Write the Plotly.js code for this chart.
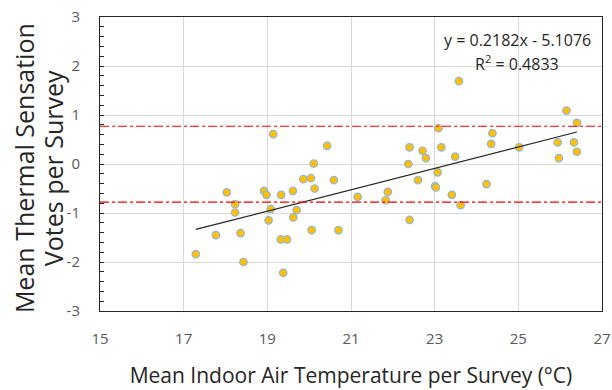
<!DOCTYPE html>
<html>
<head>
<meta charset="utf-8">
<script src="https://cdn.plot.ly/plotly-3.0.1.min.js"></script>
<style>html,body{margin:0;padding:0;background:#fff;}#chart{width:612px;height:390px;}</style>
</head>
<body>
<div id="chart"></div>
<script>
// Mean indoor air temperature per survey (°C)
const temperature = [17.29,17.77,18.03,18.23,18.23,18.36,18.43,18.92,18.98,19.08,19.03,19.14,19.33,19.61,19.32,19.47,19.38,
  20.43,20.11,19.86,20.04,20.13,20.59,19.70,19.62,20.06,20.70,21.16,21.88,21.83,
  23.58,23.09,22.40,22.71,22.79,23.16,22.37,23.49,24.38,24.35,23.07,22.60,23.01,23.03,23.41,23.62,24.24,22.40,
  26.15,26.40,25.02,25.94,26.33,26.40,25.97];
// Mean thermal sensation votes per survey
const sensation = [-1.84,-1.45,-0.58,-0.82,-0.99,-1.41,-2.00,-0.55,-0.63,-0.92,-1.15,0.61,-0.63,-0.55,-1.54,-1.54,-2.22,
  0.37,0.01,-0.31,-0.29,-0.50,-0.33,-0.94,-1.09,-1.35,-1.35,-0.67,-0.57,-0.74,
  1.69,0.73,0.34,0.27,0.12,0.34,0.00,0.15,0.63,0.41,-0.17,-0.33,-0.45,-0.48,-0.63,-0.84,-0.41,-1.14,
  1.09,0.84,0.34,0.44,0.44,0.25,0.12];
const slope = 0.2182, intercept = -5.1076, r2 = 0.4833;
const comfortBounds = [0.77, -0.78];
const xTicks = [15,17,19,21,23,25,27];
const yTicks = [-3,-2,-1,0,1,2,3];
const yTitleLines = ['Mean Thermal Sensation', 'Votes per Survey'];

const xmin = Math.min(...temperature), xmax = Math.max(...temperature);
const trendX = [xmin, xmax];
const trendY = trendX.map(v => slope*v + intercept);

const font = 'Open Sans, Noto Sans, sans-serif';
const traces = [
  {x: temperature, y: sensation, type:'scatter', mode:'markers',
   marker:{color:'#FFC000', size:7.5, line:{color:'#8FB4DE', width:1.2}}, showlegend:false, hoverinfo:'x+y'},
  {x: trendX, y: trendY, type:'scatter', mode:'lines',
   line:{color:'#262626', width:1.2}, showlegend:false, hoverinfo:'skip'}
];
const shapes = comfortBounds.map(b => ({type:'line', xref:'paper', x0:0, x1:1, yref:'y', y0:b, y1:b,
  line:{color:'#FF0000', width:1.2, dash:'dashdot'}}));

const annotations = [
  {x:24.97, y:2.53, xref:'x', yref:'y', text:'y = ' + slope.toFixed(4) + 'x - ' + Math.abs(intercept).toFixed(4), showarrow:false,
   font:{size:16, color:'#262626', family:font}, xanchor:'center', yanchor:'middle'},
  {x:24.97, y:2.06, xref:'x', yref:'y', text:'R<sup>2</sup> = ' + r2.toFixed(4), showarrow:false,
   font:{size:16, color:'#262626', family:font}, xanchor:'center', yanchor:'middle'}
];
const yTitleX = [-0.1514, -0.0936];
yTitleLines.forEach((t, i) => annotations.push({
  x: yTitleX[i], y: 0.486, xref:'paper', yref:'paper', text:t, textangle:-90, showarrow:false,
  font:{size:25, color:'#262626', family:font}, xanchor:'center', yanchor:'middle'}));

const layout = {
  width:612, height:390,
  margin:{l:100, r:10, t:17, b:79},
  paper_bgcolor:'#fff', plot_bgcolor:'#fff',
  font:{family:font, color:'#595959'},
  xaxis:{range:[15,27], tickvals:xTicks, ticktext:xTicks.map(String), showgrid:true, gridcolor:'#D9D9D9', gridwidth:1,
    zeroline:false, showline:true, linecolor:'#262626', linewidth:1, mirror:true, ticks:'',
    ticklabelstandoff:14,
    tickfont:{size:15, color:'#595959', family:font},
    title:{text:'Mean Indoor Air Temperature per Survey (°C)', font:{size:21, color:'#262626', family:font}, standoff:21}},
  yaxis:{range:[-3,3], tickvals:yTicks, ticktext:yTicks.map(String), showgrid:true, gridcolor:'#D9D9D9', gridwidth:1,
    zeroline:false, showline:true, linecolor:'#262626', linewidth:1, mirror:true,
    ticks:'inside', ticklen:4, tickcolor:'#262626',
    minor:{ticks:'inside', dtick:0.2, ticklen:4, tickcolor:'#262626', showgrid:false},
    ticklabelstandoff:16,
    tickfont:{size:15, color:'#595959', family:font}},
  shapes: shapes,
  annotations: annotations
};
Plotly.newPlot('chart', traces, layout, {displayModeBar:false, staticPlot:true});
</script>
</body>
</html>
